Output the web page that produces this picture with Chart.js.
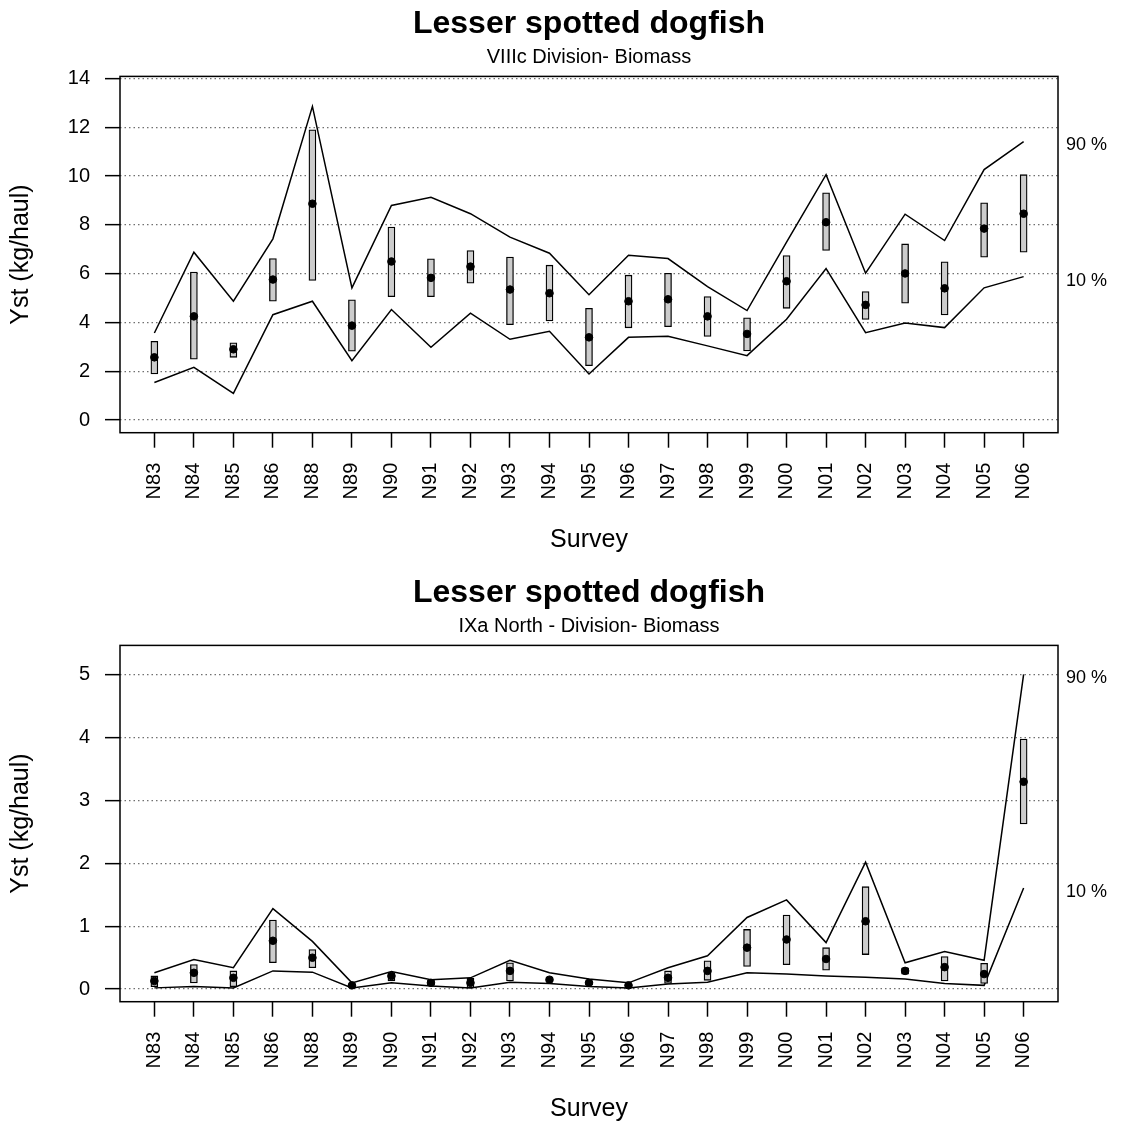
<!doctype html>
<html>

<head>
  <title>Lesser spotted dogfish</title>
  <script src="https://cdn.jsdelivr.net/npm/chart.js@4.4.1/dist/chart.umd.min.js"></script>
  <style>
    body {
      margin: 0;
      background: #ffffff;
    }
    .panel {
      position: absolute;
      left: 0;
      width: 1122px;
      height: 555px;
    }
  </style>
</head>

<body>
  <div class="panel" style="top: 0px;"><canvas id="chartTop" width="1122" height="555"></canvas></div>
  <div class="panel" style="top: 569px;"><canvas id="chartBottom" width="1122" height="555"></canvas></div>

  <script>
    var surveys = ['N83', 'N84', 'N85', 'N86', 'N88', 'N89', 'N90', 'N91', 'N92', 'N93', 'N94', 'N95',
      'N96', 'N97', 'N98', 'N99', 'N00', 'N01', 'N02', 'N03', 'N04', 'N05', 'N06'];

    // VIIIc Division
    var viiiMean = [2.57, 4.25, 2.90, 5.76, 8.87, 3.87, 6.50, 5.83, 6.29, 5.35, 5.20, 3.39, 4.87, 4.95, 4.25, 3.53, 5.69, 8.11, 4.72, 6.01, 5.40, 7.85, 8.46];
    var viiiLow = [1.89, 2.49, 2.57, 4.87, 5.72, 2.82, 5.06, 5.06, 5.61, 3.91, 4.06, 2.23, 3.78, 3.83, 3.43, 2.83, 4.58, 6.95, 4.12, 4.79, 4.31, 6.68, 6.88];
    var viiiHigh = [3.23, 6.07, 3.17, 6.62, 11.90, 4.93, 7.91, 6.61, 6.95, 6.68, 6.35, 4.58, 5.94, 6.02, 5.06, 4.19, 6.74, 9.32, 5.27, 7.22, 6.49, 8.91, 10.06];
    var viiiP90 = [3.57, 6.88, 4.87, 7.43, 12.86, 5.42, 8.80, 9.13, 8.46, 7.50, 6.84, 5.14, 6.76, 6.62, 5.47, 4.49, 7.29, 10.06, 6.02, 8.44, 7.36, 10.27, 11.42];
    var viiiP10 = [1.54, 2.16, 1.09, 4.32, 4.87, 2.43, 4.53, 2.98, 4.38, 3.31, 3.64, 1.89, 3.39, 3.43, 3.04, 2.64, 4.13, 6.21, 3.58, 3.98, 3.79, 5.42, 5.88];
    var viiiTicks = [0, 2, 4, 6, 8, 10, 12, 14];

    // IXa North Division
    var ixaMean = [0.13, 0.26, 0.18, 0.77, 0.50, 0.06, 0.21, 0.10, 0.10, 0.29, 0.15, 0.10, 0.06, 0.18, 0.29, 0.66, 0.79, 0.48, 1.08, 0.29, 0.35, 0.24, 3.30];
    var ixaLow = [0.04, 0.10, 0.04, 0.42, 0.34, 0.03, 0.13, 0.06, 0.02, 0.13, 0.12, 0.07, 0.04, 0.09, 0.14, 0.36, 0.39, 0.30, 0.55, 0.24, 0.13, 0.09, 2.63];
    var ixaHigh = [0.21, 0.39, 0.29, 1.10, 0.63, 0.08, 0.26, 0.14, 0.17, 0.42, 0.19, 0.13, 0.08, 0.29, 0.45, 0.95, 1.18, 0.66, 1.63, 0.34, 0.52, 0.41, 3.98];
    var ixaP90 = [0.26, 0.47, 0.34, 1.28, 0.76, 0.10, 0.28, 0.15, 0.18, 0.46, 0.26, 0.16, 0.10, 0.34, 0.53, 1.14, 1.42, 0.74, 2.02, 0.42, 0.60, 0.46, 5.01];
    var ixaP10 = [0.02, 0.04, 0.02, 0.29, 0.27, 0.02, 0.10, 0.05, 0.02, 0.11, 0.09, 0.04, 0.02, 0.08, 0.11, 0.26, 0.24, 0.21, 0.19, 0.16, 0.09, 0.06, 1.61];
    var ixaTicks = [0, 1, 2, 3, 4, 5];

    var FONT = "'Liberation Sans', Arial, Helvetica, sans-serif";
    Chart.defaults.font.family = FONT;
    Chart.defaults.color = '#000000';

    function points(values) {
      return values.map(function(v, i) { return { x: i, y: v }; });
    }

    // box round the plot and the 90 % / 10 % labels at the end of the lines
    var framePlugin = {
      id: 'frame',
      afterDraw: function(chart) {
        var ctx = chart.ctx;
        var area = chart.chartArea;
        var yScale = chart.scales.y;
        ctx.save();
        ctx.strokeStyle = '#000000';
        ctx.lineWidth = 1.5;
        ctx.strokeRect(area.left, area.top, area.right - area.left, area.bottom - area.top);
        ctx.fillStyle = '#000000';
        ctx.font = '18px ' + FONT;
        ctx.textAlign = 'left';
        ctx.textBaseline = 'middle';
        var p90 = chart.data.datasets[2].data;
        var p10 = chart.data.datasets[3].data;
        ctx.fillText('90 %', area.right + 8, yScale.getPixelForValue(p90[p90.length - 1].y) + 4);
        ctx.fillText('10 %', area.right + 8, yScale.getPixelForValue(p10[p10.length - 1].y) + 4);
        ctx.restore();
      }
    };

    function makeChart(id, subtitle, mean, low, high, p90, p10, yTicks, yMin, yMax) {
      var ctx = document.getElementById(id).getContext('2d');
      return new Chart(ctx, {
        type: 'bar',
        data: {
          datasets: [{
            type: 'scatter',
            data: points(mean),
            showLine: false,
            pointRadius: 3.8,
            pointBackgroundColor: '#000000',
            pointBorderColor: '#000000',
            order: 0
          }, {
            type: 'bar',
            data: low.map(function(v, i) { return { x: i, y: [v, high[i]] }; }),
            backgroundColor: '#cccccc',
            borderColor: '#000000',
            borderWidth: 1.3,
            borderSkipped: false,
            barThickness: 7,
            order: 1
          }, {
            type: 'line',
            data: points(p90),
            borderColor: '#000000',
            borderWidth: 1.5,
            pointRadius: 0,
            fill: false,
            tension: 0,
            order: 2
          }, {
            type: 'line',
            data: points(p10),
            borderColor: '#000000',
            borderWidth: 1.5,
            pointRadius: 0,
            fill: false,
            tension: 0,
            order: 2
          }]
        },
        options: {
          responsive: false,
          animation: false,
          layout: {
            padding: { left: 0, right: 64, top: 0, bottom: 0 }
          },
          plugins: {
            legend: { display: false },
            tooltip: { enabled: false },
            title: {
              display: true,
              fullSize: false,
              text: 'Lesser spotted dogfish',
              color: '#000000',
              font: { size: 32, weight: 'bold' },
              padding: { top: 5, bottom: 0 }
            },
            subtitle: {
              display: true,
              fullSize: false,
              text: subtitle,
              color: '#000000',
              font: { size: 20 },
              padding: { top: 2, bottom: 7 }
            }
          },
          scales: {
            x: {
              type: 'linear',
              offset: false,
              min: -0.87,
              max: 22.87,
              afterBuildTicks: function(scale) {
                scale.ticks = surveys.map(function(s, i) { return { value: i }; });
              },
              afterFit: function(scale) {
                scale.height = 122.3;
              },
              ticks: {
                autoSkip: false,
                minRotation: 90,
                maxRotation: 90,
                padding: 15,
                font: { size: 20 },
                callback: function(value) { return surveys[value]; }
              },
              grid: {
                offset: false,
                drawOnChartArea: false,
                drawTicks: true,
                tickLength: 15,
                tickColor: '#000000',
                tickWidth: 1.5
              },
              border: { display: false },
              title: {
                display: true,
                text: 'Survey',
                font: { size: 25 },
                padding: { top: 0, bottom: 0 }
              }
            },
            y: {
              type: 'linear',
              min: yMin,
              max: yMax,
              afterBuildTicks: function(scale) {
                scale.ticks = yTicks.map(function(v) { return { value: v }; });
              },
              afterFit: function(scale) {
                scale.width = 120;
              },
              ticks: {
                padding: 15,
                font: { size: 20 }
              },
              grid: {
                color: '#707070',
                lineWidth: 1.3,
                drawTicks: true,
                tickLength: 15,
                tickColor: '#000000',
                tickWidth: 1.5,
                tickBorderDash: []
              },
              border: { display: false, dash: [1.5, 3] },
              title: {
                display: true,
                text: 'Yst (kg/haul)',
                font: { size: 25 },
                padding: { top: 6, bottom: 0 }
              }
            }
          }
        },
        plugins: [framePlugin]
      });
    }

    makeChart('chartTop', 'VIIIc Division- Biomass', viiiMean, viiiLow, viiiHigh, viiiP90, viiiP10, viiiTicks, -0.52, 14.09);
    makeChart('chartBottom', 'IXa North - Division- Biomass', ixaMean, ixaLow, ixaHigh, ixaP90, ixaP10, ixaTicks, -0.2, 5.47);
  </script>
</body>

</html>
